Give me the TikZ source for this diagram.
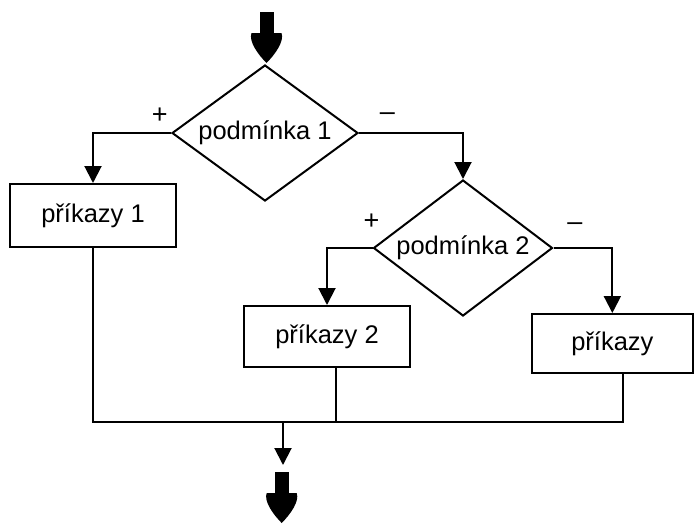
\documentclass[tikz,border=0pt]{standalone}
\usepackage{fontspec}
\setmainfont{Liberation Sans}
\usetikzlibrary{shapes.geometric,arrows.meta}
\begin{document}
\begin{tikzpicture}[x=1pt,y=-1pt,
  line width=2pt,
  txt/.style={font=\fontsize{25.5}{30}\selectfont},
  box/.style={draw, rectangle, inner sep=0pt, txt},
  cond/.style={draw, diamond, inner sep=0pt},
  condtext/.style={inner sep=0pt, txt},
  arr/.style={-{Triangle[width=17pt,length=17pt]}},
  sign/.style={anchor=base, inner sep=0pt, font=\fontsize{27}{32}\selectfont},
  fat arrow/.pic={
    \fill (-7,0) rectangle (7,23);
    \fill (-15,21) -- (15,21) .. controls (18,29) and (9,42) .. (0,51)
          .. controls (-9,42) and (-18,29) .. (-15,21) -- cycle;
  }]
\useasboundingbox (0,0) rectangle (694,523);

% entry and exit
\coordinate (in) at (266.5,12);
\coordinate (out) at (281.7,472);
\pic at (in) {fat arrow};
\pic at (out) {fat arrow};

% conditions
\node[cond, minimum width=186pt, minimum height=136pt,
      label={[condtext]center:podmínka 1}] (c1) at (265,133) {};
\node[cond, minimum width=179pt, minimum height=136pt,
      label={[condtext]center:podmínka 2}] (c2) at (463,248) {};

% statement blocks
\node[box, minimum width=166pt, minimum height=63pt] (b1) at (93,215.5) {příkazy 1};
\node[box, minimum width=166pt, minimum height=61pt] (b2) at (327,336.5) {příkazy 2};
\node[box, minimum width=160.7pt, minimum height=59pt] (b3) at (612.35,343.5) {příkazy};

% branch signs
\node[sign] (p1) at (159.7,123.5) {+};
\node[sign] (m1) at (387.5,120.6) {–};
\node[sign] (p2) at (371.5,229.5) {+};
\node[sign] (m2) at (575,230.8) {–};

% branches
\draw[arr] (c1.west) -| (b1.north);
\draw[arr] (c1.east) -| (c2.north);
\draw[arr] (c2.west) -| (b2.north);
\draw[arr] (c2.east) -| (b3.north);

% merge
\coordinate (jl) at (93,422);
\coordinate (jm) at (336,422);
\coordinate (jr) at (623,422);
\coordinate (jo) at (283,422);
\coordinate (end) at (283,465);
\draw (b1.south) -- (jl) -- (jr) -- (jr |- b3.south);
\draw (jm |- b2.south) -- (jm);
\draw[arr] (jo) -- (end);
\end{tikzpicture}
\end{document}
